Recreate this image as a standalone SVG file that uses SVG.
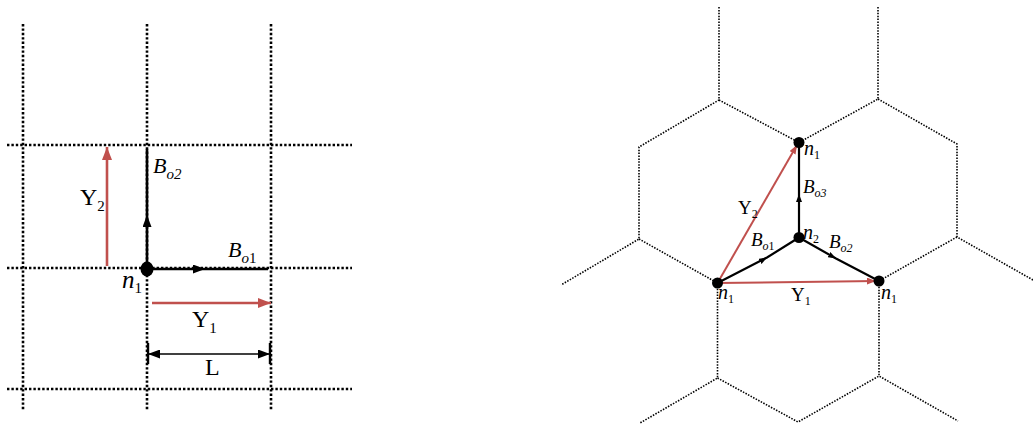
<svg xmlns="http://www.w3.org/2000/svg" width="1033" height="425" viewBox="0 0 1033 425">
<style>
.grid{stroke:#000;stroke-width:2.6;stroke-dasharray:2.4 2;fill:none}
.hex{stroke:#000;stroke-width:1.6;stroke-dasharray:1.5 1.4;fill:none}
.bond{stroke:#000;stroke-width:2.6;fill:none}
.bondR{stroke:#000;stroke-width:2.2;fill:none}
.red{stroke:#c0504d;stroke-width:2.6;fill:none}
.redR{stroke:#c0504d;stroke-width:2;fill:none}
.dim{stroke:#000;stroke-width:1.6;fill:none}
.tick{stroke:#000;stroke-width:2.4}
text{font-family:"Liberation Serif","Times New Roman",serif;fill:#000}
.it{font-style:italic}
.up{font-style:normal}
</style>
<defs>
<marker id="midL" markerUnits="userSpaceOnUse" markerWidth="12" markerHeight="9" refX="12" refY="4.5" orient="auto"><path d="M0,0 L12,4.5 L0,9 z" fill="#000"/></marker>
<marker id="midR" markerUnits="userSpaceOnUse" markerWidth="8" markerHeight="6" refX="8" refY="3" orient="auto"><path d="M0,0 L8,3 L0,6 z" fill="#000"/></marker>
<marker id="redL" markerUnits="userSpaceOnUse" markerWidth="13" markerHeight="10" refX="13" refY="5" orient="auto"><path d="M0,0 L13,5 L0,10 z" fill="#c0504d"/></marker>
<marker id="redR" markerUnits="userSpaceOnUse" markerWidth="9" markerHeight="7" refX="9" refY="3.5" orient="auto"><path d="M0,0 L9,3.5 L0,7 z" fill="#c0504d"/></marker>
<marker id="dimA" markerUnits="userSpaceOnUse" markerWidth="12" markerHeight="9" refX="12" refY="4.5" orient="auto-start-reverse"><path d="M0,0 L12,4.5 L0,9 z" fill="#000"/></marker>
</defs>

<!-- left square lattice -->
<g id="square-grid">
<line class="grid" x1="23" y1="24" x2="23" y2="410"/>
<line class="grid" x1="147" y1="24" x2="147" y2="410"/>
<line class="grid" x1="271" y1="24" x2="271" y2="410"/>
<line class="grid" x1="7" y1="145" x2="352" y2="145"/>
<line class="grid" x1="7" y1="268" x2="352" y2="268"/>
<line class="grid" x1="7" y1="389" x2="352" y2="389"/>
</g>

<!-- right honeycomb lattice -->
<g id="hex-grid">
<path class="hex" d="M719,7 L719,100 L639,147 L639,239 L561,285"/>
<path class="hex" d="M719,100 L799,142.5"/>
<path class="hex" d="M878,7 L878,99 L799,142.5"/>
<path class="hex" d="M878,99 L957,144 L957,237 L1033,280"/>
<path class="hex" d="M639,239 L717.5,283"/>
<path class="hex" d="M957,237 L879,281"/>
<path class="hex" d="M717.5,283 L717.5,378 L640,423"/>
<path class="hex" d="M717.5,378 L798,422 L879,376 L958,421"/>
<path class="hex" d="M879,281 L879,376"/>
</g>

<g id="connectors">
<!-- left -->
<path class="bond" d="M147,269 L147,215 L147,149" marker-mid="url(#midL)"/>
<path class="bond" d="M147,269 L205,269 L268,269" marker-mid="url(#midL)"/>
<line class="red" x1="107" y1="266" x2="107" y2="147" marker-end="url(#redL)"/>
<line class="red" x1="152" y1="303" x2="271" y2="303" marker-end="url(#redL)"/>
<line class="dim" x1="148" y1="354" x2="270" y2="354" marker-start="url(#dimA)" marker-end="url(#dimA)"/>
<line class="tick" x1="148" y1="343" x2="148" y2="364"/>
<line class="tick" x1="270" y1="343" x2="270" y2="364"/>
<!-- right -->
<path class="bondR" d="M799,237.5 L799,194 L799,142.5" marker-mid="url(#midR)"/>
<path class="bondR" d="M717.5,283 L767,257.5 L799,237.5" marker-mid="url(#midR)"/>
<path class="bondR" d="M799,237.5 L836,258.5 L879,281" marker-mid="url(#midR)"/>
<line class="redR" x1="717.5" y1="283" x2="797" y2="145" marker-end="url(#redR)"/>
<line class="redR" x1="717.5" y1="283" x2="876" y2="281" marker-end="url(#redR)"/>
</g>

<!-- left nodes and labels -->
<g id="node-n1-left">
<ellipse cx="147" cy="269" rx="6.5" ry="7.5" fill="#000"/>
<text x="122" y="288" class="it" font-size="25">n<tspan class="up" font-size="15" dy="5">1</tspan></text>
</g>
<g id="label-Bo2-left"><text x="153" y="173" class="it" font-size="22">B<tspan font-size="15" dy="6">o2</tspan></text></g>
<g id="label-Bo1-left"><text x="228" y="257" class="it" font-size="22">B<tspan font-size="15" dy="6">o</tspan><tspan class="up" font-size="15">1</tspan></text></g>
<g id="label-Y2-left"><text x="80" y="205" font-size="24">Y<tspan font-size="15" dy="6">2</tspan></text></g>
<g id="label-Y1-left"><text x="192" y="327" font-size="24">Y<tspan font-size="15" dy="6">1</tspan></text></g>
<g id="label-L"><text x="205" y="375" font-size="24">L</text></g>

<!-- right nodes and labels -->
<g id="node-n1-top">
<circle cx="799" cy="142.5" r="5.5" fill="#000"/>
<text x="804" y="155" class="it" font-size="20">n<tspan class="up" font-size="12" dy="4">1</tspan></text>
</g>
<g id="node-n2">
<circle cx="799" cy="237.5" r="5.5" fill="#000"/>
<text x="803" y="239" class="it" font-size="20">n<tspan class="up" font-size="12" dy="4">2</tspan></text>
</g>
<g id="node-n1-bl">
<circle cx="717.5" cy="283" r="5.5" fill="#000"/>
<text x="718" y="299" class="it" font-size="20">n<tspan class="up" font-size="12" dy="4">1</tspan></text>
</g>
<g id="node-n1-br">
<circle cx="879" cy="281" r="5.5" fill="#000"/>
<text x="881" y="299" class="it" font-size="20">n<tspan class="up" font-size="12" dy="4">1</tspan></text>
</g>
<g id="label-Bo3"><text x="803" y="193" class="it" font-size="19">B<tspan font-size="12" dy="4">o3</tspan></text></g>
<g id="label-Bo1-right"><text x="751" y="246" class="it" font-size="19">B<tspan font-size="12" dy="4">o</tspan><tspan class="up" font-size="12">1</tspan></text></g>
<g id="label-Bo2-right"><text x="829" y="248" class="it" font-size="19">B<tspan font-size="12" dy="4">o2</tspan></text></g>
<g id="label-Y2-right"><text x="738" y="214" font-size="19">Y<tspan font-size="12" dy="4">2</tspan></text></g>
<g id="label-Y1-right"><text x="791" y="301" font-size="19">Y<tspan font-size="12" dy="4">1</tspan></text></g>
</svg>
